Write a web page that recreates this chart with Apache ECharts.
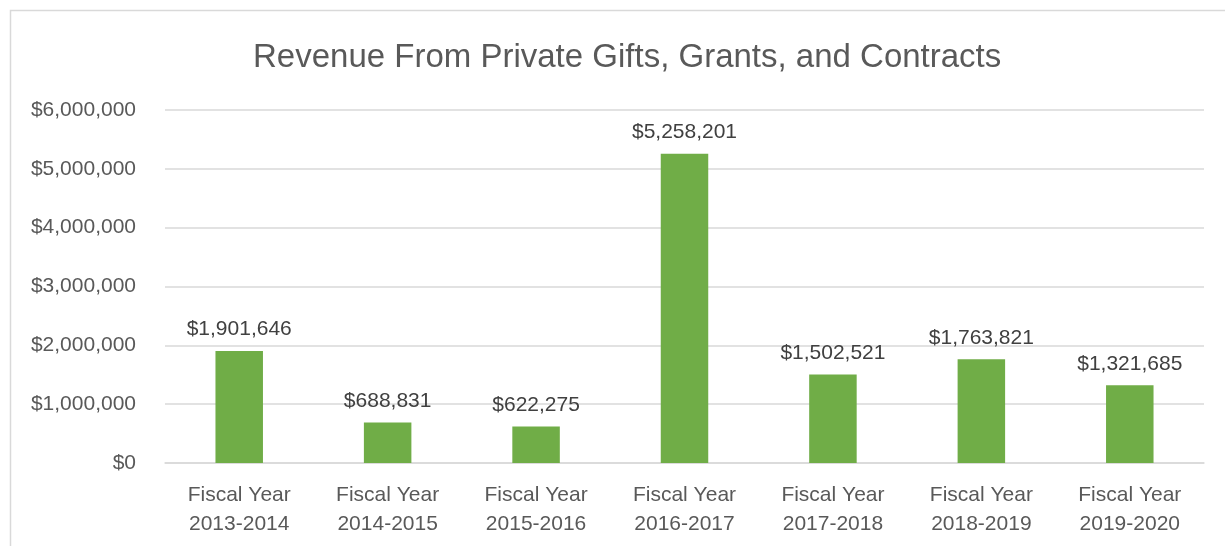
<!DOCTYPE html>
<html>
<head>
<meta charset="utf-8">
<script src="https://cdn.jsdelivr.net/npm/echarts@6/dist/echarts.min.js"></script>
<style>
  html, body { margin: 0; padding: 0; background: #fff; }
  #chart { width: 1225px; height: 546px; }
</style>
</head>
<body>
<div id="chart"></div>
<script>
// data
const categories = [
  'Fiscal Year\n2013-2014',
  'Fiscal Year\n2014-2015',
  'Fiscal Year\n2015-2016',
  'Fiscal Year\n2016-2017',
  'Fiscal Year\n2017-2018',
  'Fiscal Year\n2018-2019',
  'Fiscal Year\n2019-2020',
];
const revenue = [1901646, 688831, 622275, 5258201, 1502521, 1763821, 1321685];

const fmt = v => '$' + Math.round(v).toLocaleString('en-US');
const font = '"Liberation Sans", Arial, sans-serif';

const chart = echarts.init(document.getElementById('chart'), null, { renderer: 'canvas' });

chart.setOption({
  animation: false,
  backgroundColor: '#FFFFFF',
  textStyle: { fontFamily: font },
  title: {
    text: 'Revenue From Private Gifts, Grants, and Contracts',
    left: 248,
    top: 36,
    textStyle: { fontFamily: font, fontSize: 33, fontWeight: 'normal', color: '#595959' },
  },
  graphic: [
    {
      type: 'rect',
      shape: { x: 10.5, y: 10.5, width: 1230, height: 560 },
      style: { fill: 'none', stroke: '#d9d9d9', lineWidth: 1.5 },
      silent: true,
    },
  ],
  grid: { left: 165, right: 21, top: 110, bottom: 83, containLabel: false },
  xAxis: {
    type: 'category',
    data: categories,
    axisTick: { show: false },
    axisLine: { lineStyle: { color: '#d9d9d9', width: 1.5 } },
    axisLabel: { fontFamily: font, fontSize: 21, color: '#595959', lineHeight: 29, margin: 18 },
  },
  yAxis: {
    type: 'value',
    min: 0,
    max: 6000000,
    interval: 1000000,
    axisLine: { show: false },
    axisTick: { show: false },
    splitLine: { lineStyle: { color: '#d9d9d9', width: 1.5 } },
    axisLabel: { fontFamily: font, fontSize: 21, color: '#595959', margin: 29, formatter: fmt },
  },
  series: [
    {
      type: 'bar',
      data: revenue,
      barWidth: '32%',
      itemStyle: { color: '#70AD47' },
      label: {
        show: true,
        position: 'top',
        distance: 11,
        fontFamily: font,
        fontSize: 21,
        color: '#404040',
        formatter: p => fmt(p.value),
      },
    },
  ],
});
</script>
</body>
</html>
